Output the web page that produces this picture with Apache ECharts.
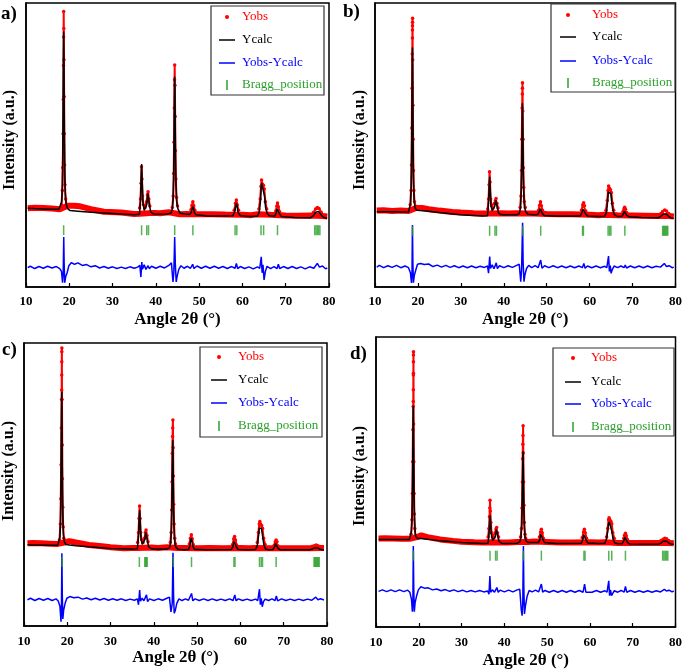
<!DOCTYPE html>
<html>
<head>
<meta charset="utf-8">
<script src="https://cdn.jsdelivr.net/npm/echarts@6/dist/echarts.min.js"></script>
<style>html,body{margin:0;padding:0;background:#fff;}#chart{width:685px;height:670px;}</style>
</head>
<body>
<div id="chart"></div>
<script>
// ---------- DATA (angle 2θ in degrees, intensity in arbitrary units 0–100 per panel) ----------
const angleTicks = [10, 20, 30, 40, 50, 60, 70, 80];
const panelLabels = ['a)', 'b)', 'c)', 'd)'];
const seriesNames = ['Yobs', 'Ycalc', 'Yobs-Ycalc', 'Bragg_position'];
const yTitle = 'Intensity (a.u.)';
const xTitle = 'Angle 2θ (°)';

// ---- Panel a ----
const obsBandA = [[10.4,27.7],[12,27.9],[14,27.8],[16,27.6],[17.8,27.4],[19.6,28.6],[21,28.6],[22.5,28.4],[25,27.4],[28,26.5],[32,26.2],[35,25.7],[36.2,25.8],[39.5,26.1],[41,26.0],[43,26.3],[45.5,25.6],[47,25.7],[50,25.6],[53,25.6],[56,25.5],[60,25.4],[62,25.3],[63.5,25.6],[66.5,25.4],[70,25.2],[73,25.1],[76,25.2],[78.5,25.0],[79.6,24.8]];
const obsPeaksA = [[18.2,29],[18.4,34],[18.5,42],[18.57,54],[18.62,66],[18.66,78],[18.69,88],[18.71,97],[18.74,91],[18.77,80],[18.81,67],[18.86,54],[18.92,43],[19.0,36],[19.15,31],[19.35,29],
 [35,'-'],[36.25,27.8],[36.45,31],[36.58,36.5],[36.68,42.3],[36.8,38],[36.93,32],[37.1,29],[37.5,28],[37.85,30],[38.05,32.5],[38.2,33.5],[38.38,31],[38.6,28.5],
 [40,'-'],[43.8,28],[44.0,32],[44.12,40],[44.2,51],[44.26,63],[44.31,73],[44.35,78.2],[44.4,71],[44.46,60],[44.53,48],[44.62,38],[44.78,31.5],[45.0,28.5],
 [46,'-'],[48.1,27.2],[48.35,28.8],[48.55,30],[48.75,28.6],[49.0,27.0],
 [50,'-'],[58.1,27.0],[58.4,29.5],[58.6,30.6],[58.8,29.0],[59.1,27.0],
 [60,'-'],[63.8,27.5],[64.1,31],[64.3,35.5],[64.42,37.7],[64.6,36.3],[64.85,35.8],[65.05,34.5],[65.3,30],[65.6,27.5],
 [66,'-'],[67.7,26.8],[67.95,28.5],[68.1,29.6],[68.3,28.3],[68.6,26.5],
 [70,'-'],[76.4,26.2],[76.9,27.5],[77.3,28.0],[77.7,27.6],[78.2,26.3]];
const calcA = [[10.4,27.7],[12,27.6],[14,27.5],[16,27.4],[17.6,27.4],[18.0,27.8],[18.25,30],[18.4,36],[18.5,48],[18.57,62],[18.63,78],[18.7,90],[18.76,82],[18.82,66],[18.88,52],[18.96,40],[19.08,33],[19.25,29.5],[19.6,27.6],[20.2,26.9],[22,26.7],[25,26.3],[30,25.9],[35,25.4],[36.2,25.6],[36.45,30],[36.6,38],[36.72,43.3],[36.85,37],[37.0,30],[37.3,27],[37.6,26.8],[37.9,29],[38.15,33],[38.3,32.5],[38.5,29],[38.8,26.5],[39.3,25.8],[40,25.6],[42.5,25.7],[43.5,26],[43.8,27.5],[44.0,31],[44.12,39],[44.2,50],[44.27,64],[44.33,74],[44.4,70],[44.47,57],[44.55,45],[44.65,36],[44.8,30],[45.1,27.5],[45.6,26],[46,25.4],[47.8,25.5],[48.2,26.3],[48.4,27.5],[48.55,28.3],[48.7,27.5],[48.9,26.2],[49.3,25.4],[52,25.0],[57.8,25.1],[58.2,26.5],[58.45,28.5],[58.6,29.6],[58.75,28.5],[59.0,26.3],[59.5,25.1],[62,24.8],[63.5,25.0],[63.9,26.5],[64.15,30],[64.35,35.5],[64.45,36.6],[64.6,35.5],[64.8,35.3],[64.95,35],[65.1,32],[65.35,28],[65.7,26],[66.2,25.1],[67.4,24.9],[67.8,26],[68.0,27.5],[68.12,28.2],[68.3,27.4],[68.55,25.8],[69.0,24.8],[72,24.5],[75.8,24.4],[76.4,25.1],[76.9,26.3],[77.25,26.9],[77.6,26.6],[78.0,25.8],[78.5,24.8],[79.0,24.4],[79.6,24.2]];
const diffA = [[10.4,6.8],[11,7.3],[12,6.5],[13,7.2],[14,6.6],[15,7.3],[16,6.7],[17,7.2],[17.8,6.5],[18.2,5.5],[18.45,1.5],[18.6,5],[18.72,17.6],[18.82,8],[18.95,1.5],[19.15,3.5],[19.5,5],[19.9,7.5],[20.5,8.6],[21.2,8.0],[22,8.5],[23,7.6],[24,7.9],[25,7.1],[26,7.5],[27,6.7],[28,7.2],[29,6.6],[30,7.1],[31,6.5],[32,7.0],[33,6.5],[34,7.1],[35,6.6],[35.8,7.0],[36.3,7.6],[36.55,3.5],[36.75,8.8],[36.9,6.3],[37.3,7.8],[37.7,6.2],[38.2,7.5],[38.5,6.4],[39,7.3],[40,6.6],[41,7.3],[42,6.7],[43,7.6],[43.6,8.5],[43.95,1.8],[44.15,5],[44.35,17.6],[44.5,8],[44.7,1.8],[44.95,4],[45.3,6.2],[45.8,7.5],[46.5,6.6],[47.3,7.3],[48.0,6.6],[48.5,8.0],[48.8,6.5],[49.5,7.4],[50.5,6.6],[51.5,7.3],[52.5,6.6],[53.5,7.3],[54.5,6.6],[55.5,7.2],[56.5,6.5],[57.5,7.2],[58.3,6.6],[58.6,8.3],[58.9,6.5],[59.5,7.2],[60.5,6.5],[61.5,7.1],[62.5,6.4],[63.5,7.1],[64.0,6.6],[64.35,10.6],[64.55,5],[64.75,7.8],[65.0,2.5],[65.3,5.5],[65.7,7.3],[66.5,6.5],[67.3,7.2],[68.0,6.5],[68.3,8.0],[68.6,6.5],[69.5,7.2],[70.5,6.5],[71.5,7.2],[72.5,6.5],[73.5,7.1],[74.5,6.4],[75.5,7.1],[76.5,6.6],[77.3,8.3],[77.8,7.0],[78.5,7.4],[79.2,6.4],[79.6,6.7]];
const braggA = [18.7, 36.7, 37.9, 38.3, 44.35, 48.55, 58.3, 58.7, 64.3, 64.9, 68.1, 76.7, 77.0, 77.3, 77.6, 77.9];
const braggLevelA = 20;

// ---- Panel b ----
const obsBandB = [[10.4,26.9],[12,27.0],[14,26.8],[16,26.9],[17.8,26.8],[19.6,27.8],[21,27.8],[22.5,27.4],[25,26.9],[28,26.4],[30,26.2],[33,26.0],[35,25.9],[36.2,25.9],[39.5,26.0],[41,25.9],[43,26.0],[45.5,25.9],[47,25.9],[50,25.7],[53,25.6],[56,25.6],[60,25.4],[62,25.3],[63.5,25.4],[66.5,25.3],[70,25.2],[73,25.1],[76,25.0],[78.5,25.0],[79.6,24.8]];
const obsPeaksB = [[18.2,29],[18.4,34],[18.5,43],[18.57,56],[18.63,70],[18.68,82],[18.71,87.7],[18.72,90.5],[18.73,92],[18.74,93.2],[18.75,94.6],[18.78,80],[18.83,64],[18.88,52],[18.95,41],[19.05,34],[19.2,30],[19.4,28.5],
 [35,'-'],[36.25,27.5],[36.45,31],[36.58,36],[36.68,40.6],[36.8,37],[36.95,31],[37.15,28.5],[37.5,27.8],[37.85,29.5],[38.05,30.5],[38.2,31.2],[38.4,29.5],[38.65,27.8],
 [40,'-'],[43.8,28],[44.0,32],[44.12,41],[44.2,52],[44.27,63],[44.32,68],[44.34,70],[44.36,71.9],[44.42,62],[44.48,52],[44.55,42],[44.65,35],[44.8,30],[45.0,28],
 [46,'-'],[48.1,27],[48.35,28.8],[48.55,30.0],[48.75,28.6],[49.0,27],
 [50,'-'],[58.1,27],[58.4,29],[58.6,29.7],[58.8,28.6],[59.1,26.8],
 [60,'-'],[63.8,27],[64.1,30.5],[64.3,34],[64.42,35.6],[64.6,34.8],[64.85,34.2],[65.05,33.3],[65.3,29.5],[65.6,27],
 [66,'-'],[67.75,26.5],[68.0,27.5],[68.15,28.1],[68.35,27.4],[68.6,26.2],
 [70,'-'],[76.5,25.8],[77.0,26.6],[77.5,27.1],[77.9,26.8],[78.4,25.9]];
const calcB = [[10.4,26.5],[12,26.5],[14,26.5],[16,26.4],[17.8,26.4],[18.1,27],[18.3,29.5],[18.45,36],[18.55,50],[18.62,65],[18.68,80],[18.72,84.3],[18.77,76],[18.83,60],[18.9,46],[18.98,37],[19.1,31],[19.3,28],[19.7,27],[20.5,26.9],[22,26.8],[25,26.2],[30,25.4],[35,25.0],[36.2,25.1],[36.45,29.5],[36.6,35],[36.72,38.8],[36.85,34],[37.0,29],[37.3,26.8],[37.6,26.6],[37.9,28.5],[38.15,30.6],[38.3,30.3],[38.5,28],[38.8,26],[39.3,25.5],[40,25.4],[43,25.4],[43.6,25.8],[43.9,28],[44.08,34],[44.18,44],[44.26,55],[44.33,64.7],[44.4,60],[44.47,50],[44.55,40],[44.65,33],[44.8,28.5],[45.1,26.5],[45.6,25.6],[47,25.4],[47.9,25.5],[48.25,26.5],[48.45,27.6],[48.6,28.1],[48.75,27.2],[48.95,26],[49.4,25.2],[52,25.0],[57.8,25.0],[58.2,26.2],[58.45,27.3],[58.6,27.7],[58.75,27.0],[59.0,25.9],[59.5,25.0],[62,24.8],[63.5,24.9],[63.9,26.2],[64.15,29.5],[64.35,33.5],[64.48,34.2],[64.62,33.4],[64.8,33.2],[64.95,32.8],[65.1,30.5],[65.35,27.5],[65.7,25.6],[66.5,24.8],[67.5,24.9],[67.85,25.7],[68.05,26.6],[68.2,26.9],[68.4,26.2],[68.65,25.2],[69.2,24.7],[72,24.5],[76,24.4],[76.6,24.9],[77.1,25.6],[77.5,25.9],[77.9,25.6],[78.4,24.9],[79,24.3],[79.6,24.2]];
const diffB = [[10.4,7.0],[11,7.6],[12,6.8],[13,7.5],[14,6.9],[15,7.6],[16,6.8],[17,7.4],[17.8,6.8],[18.25,5.0],[18.5,1.4],[18.62,5],[18.72,21.8],[18.82,9],[18.95,1.5],[19.15,4],[19.5,6],[19.9,8.0],[20.6,8.3],[21.5,7.9],[22.5,8.1],[23.5,7.2],[24.5,7.7],[25.5,7.0],[26.5,7.6],[27.5,6.9],[28.5,7.5],[29.5,6.8],[30.5,7.4],[31.5,6.8],[32.5,7.4],[33.5,6.8],[34.5,7.3],[35.5,6.9],[36.2,7.4],[36.45,4.9],[36.72,10.7],[36.9,6.5],[37.3,7.8],[37.7,6.4],[38.25,8.5],[38.5,6.5],[39.0,7.5],[40,6.8],[41,7.5],[42,6.9],[43,7.6],[43.6,8.0],[43.95,1.9],[44.15,6],[44.38,22.6],[44.5,9],[44.7,1.9],[44.95,4.5],[45.3,6.5],[45.8,7.6],[46.5,6.8],[47.3,7.5],[48.0,6.8],[48.6,9.5],[48.9,6.6],[49.5,7.5],[50.5,6.8],[51.5,7.5],[52.5,6.8],[53.5,7.4],[54.5,6.8],[55.5,7.4],[56.5,6.8],[57.5,7.4],[58.3,6.8],[58.65,8.3],[58.95,6.6],[59.5,7.4],[60.5,6.8],[61.5,7.4],[62.5,6.8],[63.5,7.3],[64.0,6.8],[64.4,10.9],[64.6,5.5],[64.8,7.5],[65.0,4.8],[65.3,6.2],[65.7,7.4],[66.5,6.8],[67.3,7.4],[68.0,6.8],[68.3,7.7],[68.6,6.7],[69.5,7.4],[70.5,6.8],[71.5,7.4],[72.5,6.8],[73.5,7.4],[74.5,6.8],[75.5,7.3],[76.5,7.0],[77.4,8.3],[77.9,7.2],[78.5,7.5],[79.2,6.8],[79.6,7.0]];
const braggB = [18.75, 36.7, 37.95, 38.3, 44.4, 48.6, 58.35, 58.55, 64.3, 64.65, 64.95, 68.2, 77.0, 77.2, 77.4, 77.6, 77.8, 78.0, 78.2];
const braggLevelB = 19.8;

// ---- Panel c ----
const obsBandC = [[10.8,29.2],[12,29.3],[14,29.2],[16,29.1],[17.8,29.0],[19.6,29.6],[20.5,30.0],[22,29.5],[25,28.6],[28,28.2],[30,27.8],[33,27.5],[35,27.6],[36.2,27.6],[39.5,27.7],[41,27.6],[43,27.8],[45.5,27.6],[47,27.6],[50,27.5],[53,27.6],[56,27.5],[60,27.6],[62,27.5],[63.5,27.6],[66.5,27.5],[70,27.5],[73,27.5],[76,27.5],[78.5,27.6],[79.3,27.6]];
const obsPeaksC = [[18.2,30.5],[18.4,36],[18.5,45],[18.57,57],[18.63,70],[18.68,80],[18.71,83.4],[18.72,88.7],[18.73,93.4],[18.74,96.9],[18.75,98.2],[18.78,80],[18.83,64],[18.88,52],[18.95,42],[19.05,35],[19.2,31],[19.4,29.8],
 [35,'-'],[36.25,29.5],[36.45,33],[36.58,38],[36.7,42.4],[36.82,38],[36.95,33],[37.15,30.5],[37.5,29.5],[37.85,31],[38.05,33],[38.2,33.9],[38.4,32],[38.65,29.8],
 [40,'-'],[43.8,29.5],[44.0,33],[44.12,41],[44.2,51],[44.27,61],[44.33,67],[44.36,70],[44.4,72.8],[44.45,63],[44.5,53],[44.57,43],[44.67,36],[44.82,31],[45.0,29],
 [46,'-'],[48.2,29],[48.45,31],[48.65,32.2],[48.85,30.8],[49.1,28.8],
 [50,'-'],[58.2,28.8],[58.45,30.8],[58.65,31.6],[58.85,30.4],[59.1,28.6],
 [60,'-'],[63.9,29.5],[64.15,33],[64.35,36],[64.48,36.9],[64.65,36],[64.9,35.5],[65.1,34.5],[65.35,31],[65.7,28.8],
 [66,'-'],[67.8,28.5],[68.05,29.8],[68.25,30.4],[68.45,29.8],[68.7,28.3],
 [70,'-'],[76.6,28.2],[77.1,28.4],[77.5,28.6],[77.9,28.4],[78.4,28.1]];
const calcC = [[10.8,28.7],[12,28.6],[14,28.6],[16,28.5],[17.8,28.5],[18.1,29.2],[18.3,31.5],[18.45,38],[18.55,52],[18.62,66],[18.68,78],[18.72,82.8],[18.77,74],[18.83,59],[18.9,46],[18.98,38],[19.1,32.5],[19.3,29.8],[19.7,28.8],[20.5,28.6],[22,28.4],[25,28.0],[30,27.4],[35,27.2],[36.2,27.3],[36.45,31.5],[36.6,37.5],[36.72,41],[36.85,36.5],[37.0,31.5],[37.3,28.8],[37.6,28.6],[37.9,30.5],[38.15,33.1],[38.3,32.7],[38.5,30.2],[38.8,28],[39.3,27.4],[40,27.2],[43,27.2],[43.6,27.6],[43.9,29.5],[44.08,35],[44.18,45],[44.26,56],[44.35,65.7],[44.42,61],[44.49,51],[44.57,41],[44.67,34],[44.82,29.5],[45.1,27.8],[45.6,27.1],[47,26.9],[48.0,27.0],[48.3,28.2],[48.5,30.2],[48.65,31.0],[48.8,30.0],[49.0,28.2],[49.4,27.1],[52,26.9],[57.9,27.0],[58.25,28.0],[58.5,29.8],[58.65,30.4],[58.8,29.6],[59.05,28],[59.5,27.0],[62,26.9],[63.5,27.0],[63.9,28.5],[64.15,31.5],[64.35,34.5],[64.5,35.1],[64.65,34.5],[64.85,34.5],[65.0,34],[65.15,31.5],[65.4,28.8],[65.8,27.2],[66.5,26.9],[67.5,27.0],[67.9,28],[68.1,29.2],[68.25,29.6],[68.45,28.8],[68.7,27.4],[69.2,26.9],[72,26.9],[76,26.9],[76.6,27.2],[77.1,27.6],[77.5,27.8],[77.9,27.6],[78.4,27.1],[79,26.9],[79.3,26.9]];
const diffC = [[10.8,9.2],[11.5,9.8],[12.5,9.0],[13.5,9.7],[14.5,9.1],[15.5,9.7],[16.5,9.0],[17.4,9.6],[17.9,8.8],[18.3,7.0],[18.55,1.5],[18.65,6],[18.75,25.7],[18.85,11],[18.97,2.5],[19.15,5.5],[19.5,8],[19.9,9.8],[20.6,10.4],[21.5,10.0],[22.5,10.2],[23.5,9.5],[24.5,9.9],[25.5,9.3],[26.5,9.8],[27.5,9.2],[28.5,9.7],[29.5,9.1],[30.5,9.6],[31.5,9.1],[32.5,9.6],[33.5,9.0],[34.5,9.5],[35.5,9.1],[36.2,9.6],[36.45,7.5],[36.72,12.7],[36.9,8.8],[37.3,9.8],[37.7,8.9],[38.3,11.0],[38.55,8.6],[39.0,9.6],[40,9.0],[41,9.6],[42,9.1],[43,9.8],[43.6,10.2],[43.95,5],[44.1,4.5],[44.25,8],[44.42,25.9],[44.55,11],[44.7,4.5],[44.95,5.5],[45.3,8],[45.8,9.6],[46.5,9.0],[47.3,9.6],[48.0,9.1],[48.7,11.5],[49.0,8.9],[49.5,9.6],[50.5,9.0],[51.5,9.6],[52.5,9.0],[53.5,9.6],[54.5,9.0],[55.5,9.5],[56.5,9.0],[57.5,9.6],[58.3,9.0],[58.7,11.0],[59.0,8.9],[59.5,9.6],[60.5,9.0],[61.5,9.5],[62.5,9.0],[63.5,9.5],[64.0,9.0],[64.4,13.0],[64.6,7.5],[64.8,9.8],[65.05,6.8],[65.3,8.5],[65.7,9.5],[66.5,9.0],[67.3,9.6],[68.0,9.0],[68.3,10.6],[68.6,8.9],[69.5,9.6],[70.5,9.0],[71.5,9.5],[72.5,9.0],[73.5,9.5],[74.5,9.0],[75.5,9.5],[76.5,9.1],[77.4,10.2],[77.9,9.3],[78.5,9.6],[79.3,9.2]];
const braggC = [18.8, 36.65, 37.9, 38.1, 38.3, 38.45, 44.5, 48.7, 58.5, 58.75, 64.4, 64.8, 65.1, 68.25, 77.0, 77.2, 77.4, 77.6, 77.8, 78.0, 78.2];
const braggLevelC = 22.6;

// ---- Panel d ----
const obsBandD = [[10.6,30.5],[12,30.6],[14,30.5],[16,30.4],[17.8,30.4],[19.6,31.0],[20.6,31.6],[22,31.0],[25,30.2],[28,29.7],[30,29.4],[33,29.2],[35,29.1],[36.2,29.2],[39.5,29.1],[41,29.1],[43,29.3],[45.5,29.3],[47,29.5],[50,29.3],[53,29.1],[56,29.1],[60,29.2],[62,29.1],[63.5,29.2],[66.5,29.0],[70,29.0],[73,29.0],[76,29.0],[78.5,29.0],[79.6,28.9]];
const obsPeaksD = [[18.2,32],[18.4,37],[18.5,46],[18.57,57],[18.63,68],[18.69,76],[18.71,77.8],[18.72,81.8],[18.73,86.9],[18.74,87.5],[18.745,91.5],[18.75,93.8],[18.76,94.9],[18.79,70],[18.84,57],[18.9,46],[18.97,39],[19.07,34],[19.2,31.5],[19.4,30.8],
 [35,'-'],[36.2,31],[36.4,34],[36.52,38],[36.6,41],[36.65,43.7],[36.72,40],[36.85,36],[37.0,32.5],[37.2,31],[37.55,30.8],[37.85,32.5],[38.05,33.8],[38.2,34.3],[38.4,32.5],[38.65,31],
 [40,'-'],[43.8,31],[44.0,34],[44.12,41],[44.2,50],[44.27,58],[44.32,63],[44.35,66],[44.38,69.4],[44.43,60],[44.5,50],[44.57,42],[44.67,36],[44.82,32],[45.0,30.5],
 [46,'-'],[48.2,31],[48.45,32.8],[48.65,33.7],[48.85,32.5],[49.1,30.6],
 [50,'-'],[58.2,30.8],[58.5,32.8],[58.7,33.7],[58.9,32.5],[59.2,30.6],
 [60,'-'],[63.9,31],[64.15,34],[64.35,37],[64.48,37.7],[64.65,37],[64.9,36.5],[65.1,35.6],[65.35,32.5],[65.7,30.5],
 [66,'-'],[67.9,30.5],[68.1,31.6],[68.3,32.3],[68.5,31.5],[68.75,30.2],
 [70,'-'],[76.6,29.8],[77.1,30.3],[77.5,30.6],[77.9,30.4],[78.4,29.8]];
const calcD = [[10.6,30.2],[12,30.2],[14,30.2],[16,30.2],[17.8,30.2],[18.1,30.8],[18.3,33],[18.45,39],[18.55,51],[18.62,63],[18.68,72],[18.72,76.3],[18.77,69],[18.83,56],[18.9,45],[18.98,38],[19.1,33.5],[19.3,31.2],[19.7,30.5],[20.5,30.5],[22,30.3],[25,29.7],[30,29.1],[35,28.8],[36.2,28.9],[36.42,32],[36.57,36],[36.67,38.5],[36.8,35.5],[36.95,32],[37.25,29.8],[37.6,29.6],[37.9,31.2],[38.15,33.7],[38.3,33.3],[38.5,31],[38.8,29.4],[39.3,28.9],[40,28.8],[43,28.9],[43.6,29.3],[43.9,31],[44.08,36],[44.18,44],[44.26,52],[44.35,60.6],[44.42,56.5],[44.49,48],[44.57,40],[44.67,34.5],[44.82,31],[45.1,29.6],[45.6,29.1],[47,29.1],[48.0,29.1],[48.3,30.3],[48.5,32],[48.65,32.5],[48.8,31.7],[49.0,30.2],[49.4,29.1],[52,28.8],[58.0,28.9],[58.3,30.0],[58.55,31.8],[58.7,32.3],[58.85,31.5],[59.1,30.0],[59.5,29.0],[62,28.8],[63.5,28.9],[63.9,30.5],[64.15,33],[64.35,35.5],[64.5,36.2],[64.65,35.5],[64.85,35.4],[65.0,35],[65.15,32.8],[65.4,30.4],[65.8,29.0],[66.5,28.7],[67.5,28.7],[67.95,29.8],[68.15,31],[68.3,31.4],[68.5,30.6],[68.75,29.3],[69.2,28.6],[72,28.5],[76,28.5],[76.6,28.9],[77.1,29.6],[77.5,29.9],[77.9,29.6],[78.4,29.0],[79,28.5],[79.6,28.5]];
const diffD = [[10.6,12.3],[11.5,12.8],[12.5,12.2],[13.5,12.8],[14.5,12.2],[15.5,12.8],[16.5,12.2],[17.4,12.7],[17.9,12.0],[18.3,9.5],[18.5,5.3],[18.62,8],[18.72,27.9],[18.82,14],[18.95,5.3],[19.15,8.5],[19.5,10.8],[19.9,12.8],[20.5,13.9],[21.3,13.4],[22.2,13.5],[23.2,12.8],[24.2,13.1],[25.2,12.5],[26.2,12.9],[27.2,12.3],[28.2,12.8],[29.2,12.2],[30.2,12.7],[31.2,12.1],[32.2,12.6],[33.2,12.1],[34.2,12.6],[35.2,12.1],[36.1,12.4],[36.4,11.3],[36.62,17.6],[36.8,12],[37.2,12.8],[37.7,12.0],[38.25,13.6],[38.55,12],[39.0,12.7],[40,12.1],[41,12.7],[42,12.1],[43,12.8],[43.6,13.0],[43.95,6],[44.15,3.9],[44.3,8],[44.45,27.9],[44.55,14],[44.7,4.5],[44.95,7.5],[45.3,10.5],[45.8,12.6],[46.5,12.1],[47.3,12.7],[48.0,12.1],[48.65,14.8],[48.95,12.0],[49.5,12.6],[50.5,12.0],[51.5,12.6],[52.5,12.0],[53.5,12.6],[54.5,12.0],[55.5,12.6],[56.5,12.0],[57.5,12.6],[58.4,12.0],[58.75,14.8],[59.05,12],[59.5,12.6],[60.5,12.0],[61.5,12.6],[62.5,12.0],[63.5,12.5],[64.0,12.0],[64.4,15.9],[64.6,10.8],[64.8,12.8],[65.05,10.8],[65.3,11.5],[65.7,12.5],[66.5,12.0],[67.3,12.6],[68.0,12.0],[68.3,14.0],[68.6,12.0],[69.5,12.6],[70.5,12.0],[71.5,12.5],[72.5,12.0],[73.5,12.5],[74.5,12.0],[75.5,12.5],[76.5,12.1],[77.4,13.0],[77.9,12.4],[78.5,12.7],[79.2,12.1],[79.6,12.4]];
const braggD = [18.75, 36.65, 37.95, 38.3, 44.45, 48.65, 58.6, 58.85, 64.4, 65.1, 68.3, 77.0, 77.3, 77.6, 77.9, 78.2];
const braggLevelD = 24.6;

// ---------- LAYOUT ----------
const SERIF = '"Liberation Serif", "Times New Roman", serif';
const RED = '#ff0000', BLACK = '#000000', BLUE = '#0000ff', GREEN = '#2ca02c';

const panels = [
  { grid: {left: 26, top: 3, width: 303, height: 284}, obsBand: obsBandA, obsPeaks: obsPeaksA, calc: calcA, diff: diffA, bragg: braggA, braggLevel: braggLevelA,
    nameGap: 24, labelMargin: 8, yTitle: {x: 10, y: 140}, label: {x: 1, y: 5},
    legend: {x: 211, y: 6, w: 113, h: 89, rows: [11, 34, 57, 79], mx: 16, tx: 31} },
  { grid: {left: 375, top: 3, width: 303, height: 284}, obsBand: obsBandB, obsPeaks: obsPeaksB, calc: calcB, diff: diffB, bragg: braggB, braggLevel: braggLevelB,
    nameGap: 24, labelMargin: 8, yTitle: {x: 360, y: 140}, label: {x: 343, y: 3},
    legend: {x: 551, y: 4, w: 124, h: 88, rows: [11, 33, 57, 79], mx: 17, tx: 41} },
  { grid: {left: 24, top: 343, width: 303, height: 283}, obsBand: obsBandC, obsPeaks: obsPeaksC, calc: calcC, diff: diffC, bragg: braggC, braggLevel: braggLevelC,
    nameGap: 22, labelMargin: 9, yTitle: {x: 9, y: 471}, label: {x: 2, y: 341},
    legend: {x: 200, y: 347, w: 122, h: 90, rows: [10, 33, 56, 79], mx: 19, tx: 38} },
  { grid: {left: 376, top: 337, width: 303, height: 291}, obsBand: obsBandD, obsPeaks: obsPeaksD, calc: calcD, diff: diffD, bragg: braggD, braggLevel: braggLevelD,
    nameGap: 25, labelMargin: 9, yTitle: {x: 360, y: 476}, label: {x: 350, y: 345},
    legend: {x: 553, y: 348, w: 121, h: 88, rows: [10, 34, 56, 79], mx: 20, tx: 38} }
];

const grids = [], xAxes = [], yAxes = [], series = [], graphics = [];

panels.forEach((p, i) => {
  grids.push(Object.assign({show: true, borderColor: '#000', borderWidth: 1.5, backgroundColor: 'transparent'}, p.grid));
  xAxes.push({
    type: 'value', gridIndex: i, min: angleTicks[0], max: angleTicks[angleTicks.length - 1], interval: angleTicks[1] - angleTicks[0],
    axisLine: {show: true, lineStyle: {color: '#000', width: 1.5}},
    axisTick: {show: true, inside: true, length: 4, lineStyle: {color: '#000', width: 1.2}},
    axisLabel: {color: '#000', fontFamily: SERIF, fontWeight: 'bold', fontSize: 13, margin: p.labelMargin},
    splitLine: {show: false},
    name: xTitle, nameLocation: 'middle', nameGap: p.nameGap,
    nameTextStyle: {color: '#000', fontFamily: SERIF, fontWeight: 'bold', fontSize: 17}
  });
  yAxes.push({
    type: 'value', gridIndex: i, min: 0, max: 100,
    axisLine: {show: true, lineStyle: {color: '#000', width: 1.5}},
    axisTick: {show: false}, axisLabel: {show: false}, splitLine: {show: false}
  });
  // Yobs background band
  series.push({name: 'Yobs', type: 'line', xAxisIndex: i, yAxisIndex: i, data: p.obsBand, showSymbol: false,
    lineStyle: {color: RED, width: 6}, itemStyle: {color: RED}, z: 2, silent: true});
  // Yobs peak points
  series.push({name: 'Yobs', type: 'line', xAxisIndex: i, yAxisIndex: i, data: p.obsPeaks, connectNulls: false,
    symbol: 'circle', symbolSize: 3.5, showSymbol: true, lineStyle: {color: RED, width: 2}, itemStyle: {color: RED, borderWidth: 0}, z: 3, silent: true});
  // Ycalc
  series.push({name: 'Ycalc', type: 'line', xAxisIndex: i, yAxisIndex: i, data: p.calc, showSymbol: false,
    lineStyle: {color: BLACK, width: 1.5}, itemStyle: {color: BLACK}, z: 4, silent: true});
  // Yobs-Ycalc
  series.push({name: 'Yobs-Ycalc', type: 'line', xAxisIndex: i, yAxisIndex: i, data: p.diff, showSymbol: false,
    lineStyle: {color: BLUE, width: 1.5}, itemStyle: {color: BLUE}, z: 4, silent: true});
  // Bragg positions
  series.push({name: 'Bragg_position', type: 'scatter', xAxisIndex: i, yAxisIndex: i,
    data: p.bragg.map(x => [x, p.braggLevel]), symbol: 'rect', symbolSize: [1.5, 10],
    itemStyle: {color: GREEN}, z: 5, silent: true});

  // y-axis title (rotated)
  graphics.push({type: 'text', x: p.yTitle.x, y: p.yTitle.y, rotation: Math.PI / 2,
    style: {text: yTitle, fill: '#000', font: 'bold 16px ' + SERIF, align: 'center', textAlign: 'center', verticalAlign: 'middle', textVerticalAlign: 'middle'}});
  // panel label
  graphics.push({type: 'text', x: p.label.x, y: p.label.y, style: {text: panelLabels[i], fill: '#000', font: 'bold 19px ' + SERIF}});

  // legend box
  const L = p.legend;
  graphics.push({type: 'rect', shape: {x: L.x, y: L.y, width: L.w, height: L.h}, style: {fill: '#fff', stroke: '#333', lineWidth: 1.2}, z: 10});
  const colors = [RED, BLACK, BLUE, GREEN];
  seriesNames.forEach((nm, k) => {
    const cy = L.y + L.rows[k];
    const cx = L.x + L.mx;
    if (k === 0) {
      graphics.push({type: 'circle', shape: {cx: cx, cy: cy, r: 2}, style: {fill: RED}, z: 11});
    } else if (k === 3) {
      graphics.push({type: 'rect', shape: {x: cx - 0.75, y: cy - 5, width: 1.5, height: 10}, style: {fill: GREEN}, z: 11});
    } else {
      graphics.push({type: 'line', shape: {x1: cx - 8, y1: cy, x2: cx + 8, y2: cy}, style: {stroke: colors[k], lineWidth: 1.5}, z: 11});
    }
    graphics.push({type: 'text', x: L.x + L.tx, y: cy, style: {text: nm, fill: colors[k], font: '13px ' + SERIF, verticalAlign: 'middle', textVerticalAlign: 'middle'}, z: 11});
  });
});

const chart = echarts.init(document.getElementById('chart'), null, {renderer: 'canvas'});
chart.setOption({
  animation: false,
  backgroundColor: '#ffffff',
  grid: grids, xAxis: xAxes, yAxis: yAxes, series: series, graphic: graphics
});
</script>
</body>
</html>
